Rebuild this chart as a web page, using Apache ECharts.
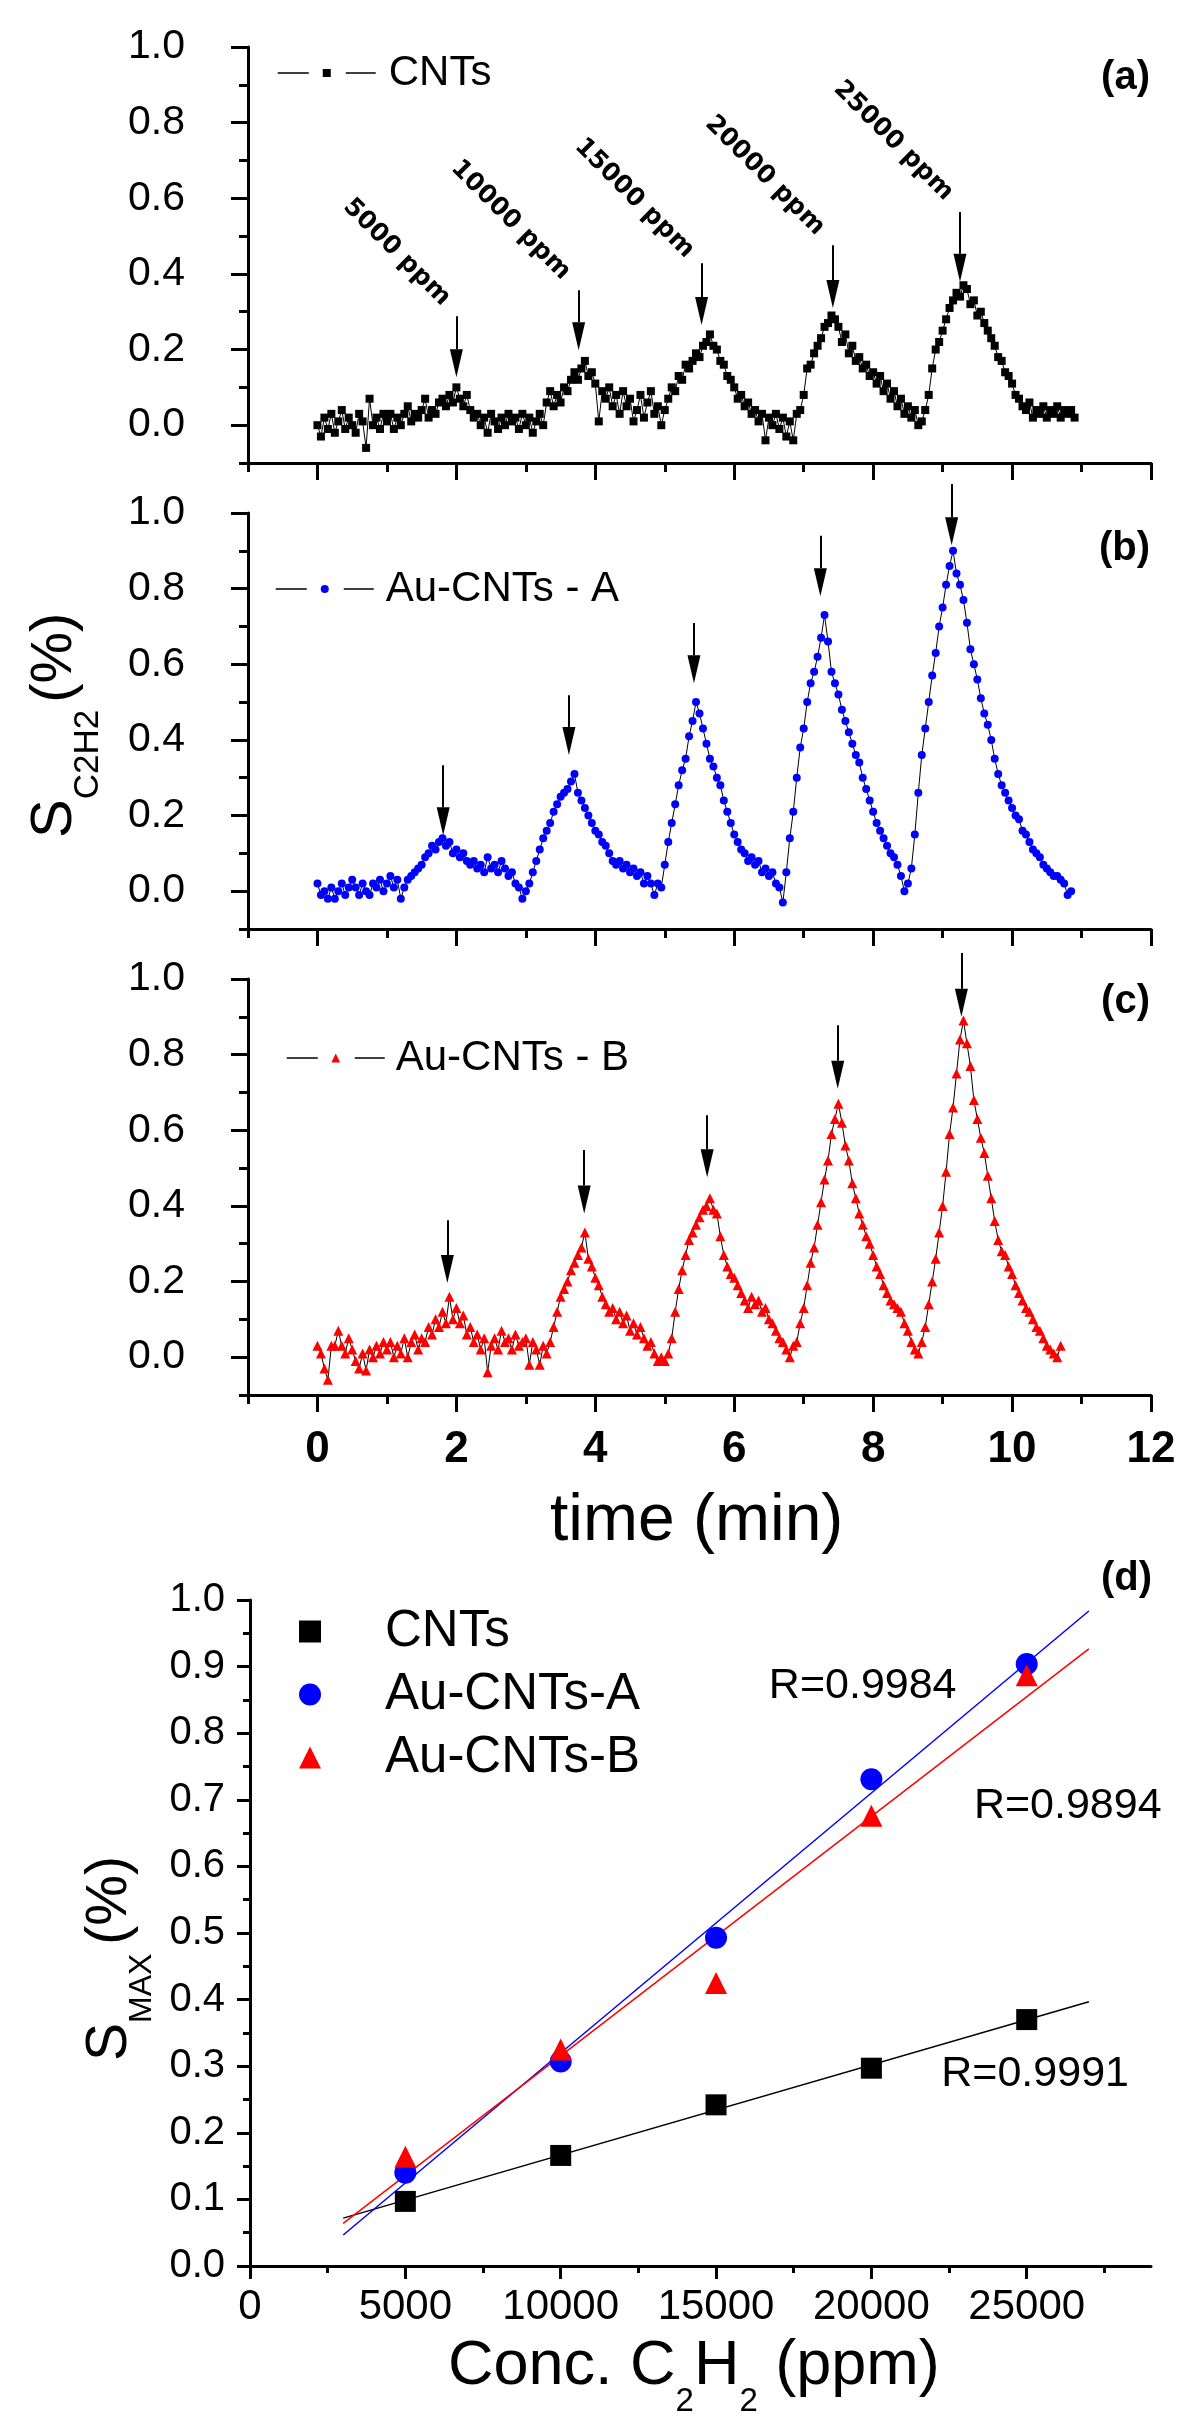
<!DOCTYPE html>
<html><head><meta charset="utf-8">
<script src="https://cdn.jsdelivr.net/npm/echarts@6/dist/echarts.min.js"></script>
<style>html,body{margin:0;padding:0;background:#fff}#c{width:1200px;height:2427px}</style>
</head><body><div id="c"></div>
<script>
// ---------- DATA ----------
const timeStep = 0.05; // min, sampling interval of the recordings
const cntsResp = [
 0.00,-0.03,0.02,-0.01,0.03,-0.02,0.01,0.04,-0.01,0.02,0.00,-0.02,0.03,0.01,-0.06,0.07,0.00,0.02,-0.01,0.03,
 0.01,0.03,-0.01,0.02,0.00,0.03,0.05,0.01,0.03,0.02,0.04,0.07,0.02,0.04,0.03,0.06,0.07,0.05,0.08,0.06,
 0.10,0.07,0.05,0.08,0.04,0.02,0.03,0.00,0.02,-0.02,0.03,0.01,-0.01,0.02,0.00,0.03,0.01,0.02,-0.01,0.03,
 0.00,0.02,-0.02,0.01,0.03,0.00,0.06,0.09,0.05,0.08,0.06,0.10,0.09,0.12,0.14,0.12,0.15,0.17,0.13,0.14,
 0.11,0.01,0.09,0.07,0.10,0.05,0.08,0.03,0.09,0.05,0.07,0.01,0.04,0.08,0.02,0.06,0.09,0.03,0.05,0.00,
 0.04,0.07,0.10,0.09,0.13,0.12,0.16,0.15,0.17,0.19,0.18,0.21,0.22,0.24,0.21,0.20,0.17,0.16,0.13,0.12,
 0.10,0.07,0.08,0.05,0.06,0.03,0.04,0.01,0.03,-0.04,0.02,0.00,0.03,-0.01,0.02,-0.03,0.01,-0.04,0.03,0.04,
 0.08,0.15,0.16,0.19,0.21,0.23,0.26,0.27,0.29,0.28,0.26,0.22,0.24,0.19,0.21,0.17,0.18,0.15,0.16,0.13,
 0.14,0.11,0.13,0.09,0.11,0.07,0.09,0.05,0.07,0.03,0.05,0.02,0.04,0.00,0.01,0.04,0.08,0.15,0.20,0.22,
 0.25,0.28,0.31,0.33,0.35,0.34,0.37,0.36,0.32,0.33,0.29,0.30,0.27,0.25,0.23,0.21,0.18,0.17,0.14,0.13,
 0.11,0.08,0.07,0.05,0.04,0.06,0.02,0.04,0.03,0.05,0.02,0.04,0.03,0.05,0.02,0.04,0.03,0.04,0.02
];
const auAResp = [
 0.02,-0.01,0.00,-0.02,0.01,-0.02,0.00,0.02,-0.01,0.01,0.03,0.01,-0.01,0.02,0.00,-0.01,0.02,0.01,0.03,0.00,
 0.02,0.04,0.01,0.03,-0.02,0.01,0.03,0.04,0.05,0.06,0.07,0.09,0.10,0.12,0.11,0.13,0.14,0.12,0.13,0.10,
 0.11,0.09,0.10,0.08,0.07,0.08,0.06,0.07,0.05,0.09,0.06,0.07,0.05,0.08,0.06,0.04,0.05,0.02,0.01,-0.02,
 0.00,0.02,0.05,0.08,0.11,0.14,0.16,0.18,0.21,0.23,0.25,0.26,0.27,0.29,0.31,0.26,0.24,0.22,0.20,0.18,
 0.16,0.15,0.13,0.12,0.10,0.08,0.07,0.08,0.06,0.07,0.05,0.06,0.04,0.05,0.02,0.04,0.02,-0.01,0.02,0.01,
 0.07,0.13,0.18,0.23,0.28,0.32,0.35,0.41,0.45,0.50,0.47,0.43,0.39,0.35,0.33,0.30,0.28,0.24,0.21,0.18,
 0.15,0.13,0.11,0.10,0.08,0.09,0.07,0.08,0.05,0.06,0.04,0.05,0.02,0.01,-0.03,0.05,0.14,0.21,0.30,0.38,
 0.43,0.50,0.55,0.58,0.62,0.67,0.73,0.66,0.58,0.55,0.52,0.48,0.45,0.42,0.39,0.36,0.34,0.30,0.27,0.24,
 0.21,0.18,0.16,0.14,0.12,0.10,0.09,0.07,0.04,0.00,0.02,0.06,0.15,0.26,0.36,0.43,0.50,0.57,0.63,0.70,
 0.75,0.81,0.86,0.90,0.84,0.81,0.77,0.71,0.64,0.60,0.56,0.51,0.47,0.44,0.40,0.35,0.31,0.28,0.26,0.24,
 0.22,0.20,0.19,0.16,0.15,0.13,0.11,0.10,0.09,0.07,0.06,0.05,0.04,0.04,0.03,0.02,-0.01,0.00
];
const auBResp = [
 0.03,0.01,-0.03,-0.06,0.03,0.03,0.07,0.03,0.01,0.05,0.02,-0.01,-0.03,0.01,-0.035,0.02,0.00,0.03,0.01,0.04,
 0.02,0.04,0.00,0.03,0.01,0.05,0.00,0.04,0.06,0.02,0.05,0.04,0.08,0.06,0.10,0.08,0.12,0.09,0.16,0.10,
 0.13,0.09,0.11,0.06,0.08,0.04,0.06,0.02,0.05,-0.04,0.03,0.05,0.02,0.07,0.04,0.05,0.02,0.06,0.03,0.04,
 0.05,-0.02,0.04,0.02,-0.02,0.03,0.01,0.04,0.08,0.12,0.16,0.18,0.20,0.23,0.25,0.27,0.29,0.33,0.26,0.24,
 0.21,0.19,0.16,0.14,0.12,0.13,0.10,0.12,0.09,0.11,0.07,0.09,0.06,0.08,0.05,0.03,0.04,0.01,-0.01,0.00,
 -0.01,0.01,0.05,0.12,0.18,0.23,0.27,0.31,0.33,0.35,0.37,0.39,0.40,0.42,0.39,0.38,0.32,0.27,0.24,0.22,
 0.21,0.19,0.17,0.15,0.13,0.16,0.14,0.15,0.12,0.13,0.10,0.09,0.07,0.05,0.04,0.02,0.00,0.03,0.04,0.09,
 0.13,0.19,0.25,0.29,0.35,0.41,0.47,0.52,0.59,0.63,0.67,0.62,0.56,0.52,0.46,0.42,0.38,0.35,0.32,0.30,
 0.27,0.24,0.22,0.19,0.17,0.15,0.14,0.13,0.12,0.09,0.07,0.04,0.02,0.01,0.04,0.08,0.14,0.20,0.26,0.33,
 0.40,0.49,0.59,0.66,0.75,0.84,0.89,0.83,0.77,0.68,0.63,0.58,0.54,0.48,0.42,0.36,0.31,0.28,0.27,0.24,
 0.22,0.19,0.17,0.15,0.13,0.12,0.10,0.08,0.07,0.05,0.03,0.02,0.01,0.00,0.03
];
// arrows (time, start value, tip value)
const arrowTimeA = [2.0, 3.76, 5.53, 7.42, 9.25];
const arrowTopA  = [0.288, 0.357, 0.428, 0.476, 0.564];
const arrowTipA  = [0.127, 0.198, 0.265, 0.31, 0.379];
const arrowTimeB = [1.81, 3.62, 5.42, 7.24, 9.13];
const arrowTopB  = [0.333, 0.518, 0.709, 0.94, 1.077];
const arrowTipB  = [0.148, 0.36, 0.55, 0.78, 0.915];
const arrowTimeC = [1.87, 3.84, 5.61, 7.49, 9.27];
const arrowTopC  = [0.362, 0.548, 0.64, 0.878, 1.069];
const arrowTipC  = [0.196, 0.38, 0.476, 0.71, 0.90];
// concentration annotations of panel (a)
const concText  = ['5000 ppm','10000 ppm','15000 ppm','20000 ppm','25000 ppm'];
const concTextT = [1.14, 2.78, 4.56, 6.44, 8.29];
const concTextV = [0.457, 0.542, 0.60, 0.66, 0.752];
// panel (d)
const concPpm  = [5000, 10000, 15000, 20000, 25000];
const smaxCNTs = [0.097, 0.166, 0.242, 0.297, 0.370];
const smaxA    = [0.140, 0.307, 0.493, 0.731, 0.904];
const smaxB    = [0.164, 0.325, 0.425, 0.676, 0.887];
const fitRange = [3000, 27000];
const rText = ['R=0.9984', 'R=0.9894', 'R=0.9991'];
const rX    = [16700, 23300, 22250];
const rY    = [0.871, 0.691, 0.288];
// tick values
const timeMajor = [0, 2, 4, 6, 8, 10, 12];
const timeMinor = [-1, 1, 3, 5, 7, 9, 11];
const sMajor = [0, 0.2, 0.4, 0.6, 0.8, 1.0];
const sMinor = [-0.1, 0.1, 0.3, 0.5, 0.7, 0.9];
const concMajor = [0, 5000, 10000, 15000, 20000, 25000];
const concMinor = [2500, 7500, 12500, 17500, 22500, 27500];
const smaxMajor = [0, 0.1, 0.2, 0.3, 0.4, 0.5, 0.6, 0.7, 0.8, 0.9, 1.0];
const smaxMinor = [0.05, 0.15, 0.25, 0.35, 0.45, 0.55, 0.65, 0.75, 0.85, 0.95];

// ---------- BUILD ----------
const FF = '"Liberation Sans", Arial, sans-serif';
const mctx = document.createElement('canvas').getContext('2d');
function tw(t, size, weight) { mctx.font = (weight || 'normal') + ' ' + size + 'px ' + FF; return mctx.measureText(t).width; }
const MID = 0.3465;
const toXY = vals => vals.map((v, i) => [+(i * timeStep).toFixed(2), v]);
const HEAD = 14 / 378.2;   // half arrow-head length in value units
const blk = '#000';

function arrowShafts(ai, ts, tops, tips) {
  return {
    type: 'lines', coordinateSystem: 'cartesian2d', xAxisIndex: ai, yAxisIndex: ai, clip: false,
    silent: true, animation: false, z: 5, symbol: ['none', 'none'],
    lineStyle: { color: blk, width: 2, type: 'solid', opacity: 1 },
    data: ts.map((t, i) => ({ coords: [[t, tops[i]], [t, tips[i] + 2 * HEAD]] }))
  };
}
function arrowHeads(ai, ts, tips) {
  return {
    type: 'scatter', xAxisIndex: ai, yAxisIndex: ai, silent: true, animation: false, clip: false, z: 5,
    symbol: 'triangle', symbolRotate: 180, symbolSize: [13, 28],
    itemStyle: { color: blk, opacity: 1 },
    data: ts.map((t, i) => [t, tips[i] + HEAD])
  };
}
function fitLine(xs, ys) {
  const n = xs.length, mx = xs.reduce((a, b) => a + b) / n, my = ys.reduce((a, b) => a + b) / n;
  let sxy = 0, sxx = 0;
  for (let i = 0; i < n; i++) { sxy += (xs[i] - mx) * (ys[i] - my); sxx += (xs[i] - mx) ** 2; }
  const k = sxy / sxx, b = my - k * mx;
  return fitRange.map(x => [x, k * x + b]);
}
const grids = [
  { left: 248, top: 47, width: 903, height: 416 },
  { left: 248, top: 513, width: 903, height: 416 },
  { left: 248, top: 979, width: 903, height: 416 },
  { left: 250, top: 1600, width: 901, height: 666 }
].map(g => Object.assign({ containLabel: false, outerBoundsMode: 'none', show: false }, g));

function mainAxis(dim, gi, min, max, ticks, tlen, lw, label) {
  return {
    type: 'value', gridIndex: gi, min: min, max: max, position: dim === 'x' ? 'bottom' : 'left',
    axisLine: { show: true, onZero: false, lineStyle: { color: blk, width: lw } },
    axisTick: { show: true, customValues: ticks, length: tlen, lineStyle: { color: blk, width: lw } },
    axisLabel: label || { show: false },
    splitLine: { show: false }
  };
}
function minorAxis(dim, gi, min, max, ticks, tlen, lw) {
  return {
    type: 'value', gridIndex: gi, min: min, max: max, position: dim === 'x' ? 'bottom' : 'left',
    axisLine: { show: false, onZero: false },
    axisTick: { show: true, customValues: ticks, length: tlen, lineStyle: { color: blk, width: lw } },
    axisLabel: { show: false }, splitLine: { show: false }
  };
}
const sLabel = { show: true, customValues: sMajor, formatter: v => v.toFixed(1), fontSize: 41, fontFamily: FF, color: blk, margin: 63, padding: [0, 0, 18, 0] };
const xAxis = [
  mainAxis('x', 0, -1, 12, timeMajor, 17, 3), minorAxis('x', 0, -1, 12, timeMinor, 9, 3),
  mainAxis('x', 1, -1, 12, timeMajor, 17, 3), minorAxis('x', 1, -1, 12, timeMinor, 9, 3),
  mainAxis('x', 2, -1, 12, timeMajor, 17, 3, { show: true, customValues: timeMajor, formatter: v => String(v), fontSize: 44, fontWeight: 'bold', fontFamily: FF, color: blk, margin: 33 }),
  minorAxis('x', 2, -1, 12, timeMinor, 9, 3),
  mainAxis('x', 3, 0, 29000, concMajor, 13, 3, { show: true, customValues: concMajor, formatter: v => String(v), fontSize: 42, fontFamily: FF, color: blk, margin: 20 }),
  minorAxis('x', 3, 0, 29000, concMinor, 7, 3)
];
const yAxis = [
  mainAxis('y', 0, -0.1, 1.0, sMajor, 17, 3, sLabel), minorAxis('y', 0, -0.1, 1.0, sMinor, 9, 3),
  mainAxis('y', 1, -0.1, 1.0, sMajor, 17, 3, sLabel), minorAxis('y', 1, -0.1, 1.0, sMinor, 9, 3),
  mainAxis('y', 2, -0.1, 1.0, sMajor, 17, 3, sLabel), minorAxis('y', 2, -0.1, 1.0, sMinor, 9, 3),
  mainAxis('y', 3, 0, 1.0, smaxMajor, 13, 3, { show: true, customValues: smaxMajor, formatter: v => v.toFixed(1), fontSize: 40, fontFamily: FF, color: blk, margin: 25 }),
  minorAxis('y', 3, 0, 1.0, smaxMinor, 7, 3)
];

function trace(name, ai, vals, symbol, size, color) {
  return {
    type: 'line', name: name, xAxisIndex: ai, yAxisIndex: ai, data: toXY(vals),
    symbol: symbol, symbolSize: size, showSymbol: true, showAllSymbol: true, clip: false,
    itemStyle: { color: color, opacity: 1 }, lineStyle: { color: blk, width: 1, opacity: 1 },
    silent: true, animation: false, z: 2
  };
}
const labelStyleBase = { show: true, position: 'inside', align: 'center', verticalAlign: 'middle', color: blk, opacity: 1 };
const series = [
  trace('CNTs', 0, cntsResp, 'rect', 8, blk),
  arrowShafts(0, arrowTimeA, arrowTopA, arrowTipA),
  arrowHeads(0, arrowTimeA, arrowTipA),
  {
    type: 'scatter', xAxisIndex: 0, yAxisIndex: 0, symbolSize: 1, silent: true, animation: false,
    itemStyle: { color: 'rgba(0,0,0,0)', opacity: 1 },
    data: concText.map((t, i) => [concTextT[i], concTextV[i], t]),
    label: Object.assign({}, labelStyleBase, { formatter: p => p.data[2], rotate: -45,
      fontSize: 25, fontWeight: 'bold', fontFamily: '"DejaVu Sans", sans-serif' })
  },
  trace('Au-CNTs - A', 2, auAResp, 'circle', 8, '#0000ff'),
  arrowShafts(2, arrowTimeB, arrowTopB, arrowTipB),
  arrowHeads(2, arrowTimeB, arrowTipB),
  trace('Au-CNTs - B', 4, auBResp, 'triangle', 10, '#ff0000'),
  arrowShafts(4, arrowTimeC, arrowTopC, arrowTipC),
  arrowHeads(4, arrowTimeC, arrowTipC),
  { type: 'line', name: 'fitCNTs', xAxisIndex: 6, yAxisIndex: 6, data: fitLine(concPpm, smaxCNTs), showSymbol: false, lineStyle: { color: blk, width: 1.5, opacity: 1 }, silent: true, animation: false },
  { type: 'line', name: 'fitA', xAxisIndex: 6, yAxisIndex: 6, data: fitLine(concPpm, smaxA), showSymbol: false, lineStyle: { color: '#0000ff', width: 1.5, opacity: 1 }, silent: true, animation: false },
  { type: 'line', name: 'fitB', xAxisIndex: 6, yAxisIndex: 6, data: fitLine(concPpm, smaxB), showSymbol: false, lineStyle: { color: '#ff0000', width: 1.5, opacity: 1 }, silent: true, animation: false },
  { type: 'scatter', name: 'CNTs ', xAxisIndex: 6, yAxisIndex: 6, data: concPpm.map((c, i) => [c, smaxCNTs[i]]), symbol: 'rect', symbolSize: 21, itemStyle: { color: blk, opacity: 1 }, silent: true, animation: false, z: 3 },
  { type: 'scatter', name: 'Au-CNTs-A', xAxisIndex: 6, yAxisIndex: 6, data: concPpm.map((c, i) => [c, smaxA[i]]), symbol: 'circle', symbolSize: 22, itemStyle: { color: '#0000ff', opacity: 1 }, silent: true, animation: false, z: 3 },
  { type: 'scatter', name: 'Au-CNTs-B', xAxisIndex: 6, yAxisIndex: 6, data: concPpm.map((c, i) => [c, smaxB[i]]), symbol: 'triangle', symbolSize: 22, itemStyle: { color: '#ff0000', opacity: 1 }, silent: true, animation: false, z: 4 },
  {
    type: 'scatter', xAxisIndex: 6, yAxisIndex: 6, symbolSize: 1, silent: true, animation: false,
    itemStyle: { color: 'rgba(0,0,0,0)', opacity: 1 }, data: rText.map((t, i) => [rX[i], rY[i], t]),
    label: Object.assign({}, labelStyleBase, { formatter: p => p.data[2], align: 'left', fontSize: 43, fontFamily: FF })
  }
];

function lineLegend(name, left, cy, ih, pad) {
  return {
    data: [name], left: left, top: cy - 21, padding: 0, selectedMode: false,
    itemWidth: 98, itemHeight: ih, textStyle: { fontSize: 42, fontFamily: FF, color: blk, padding: [0, 0, 0, pad] },
    lineStyle: { type: [31, 37], width: 1.5, color: blk }, itemStyle: { opacity: 1 }
  };
}
const legend = [
  lineLegend('CNTs', 277, 73, 10, 8),
  lineLegend('Au-CNTs - A', 275, 589, 10, 7),
  lineLegend('Au-CNTs - B', 286, 1058, 11, 6),
  {
    data: ['CNTs ', 'Au-CNTs-A', 'Au-CNTs-B'], orient: 'vertical', left: 299, top: 1606, padding: 0, selectedMode: false,
    itemWidth: 22, itemHeight: 22, itemGap: 12, formatter: n => n.trim(), itemStyle: { opacity: 1 },
    textStyle: { fontSize: 51, fontFamily: FF, color: blk, padding: [0, 0, 0, 59] }
  }
];

function txt(text, x, y, size, opts) {
  opts = opts || {};
  return { type: 'text', x: x, y: y, silent: true, style: { text: text, font: (opts.weight || 'normal') + ' ' + size + 'px ' + FF, fill: blk, align: opts.align || 'left', verticalAlign: 'middle' } };
}
function yTitle(baseX, startY, main, sub, mainSize, subSize, subDrop, gap) {
  const wS = tw(main, mainSize), wSub = tw(sub, subSize);
  return {
    type: 'group', x: baseX, y: startY, rotation: Math.PI / 2, silent: true,
    children: [
      txt(main, 0, -MID * mainSize, mainSize),
      txt(sub, wS, subDrop - MID * subSize, subSize),
      txt('(%)', wS + wSub + gap, -MID * mainSize, mainSize)
    ]
  };
}
function xTitle(startX, baseY, parts) {
  let x = startX; const out = [];
  parts.forEach(p => { out.push(txt(p[0], x, baseY + p[2] - MID * p[1], p[1])); x += tw(p[0], p[1]); });
  return out;
}
const graphic = [
  yTitle(75, 838, 'S', 'C2H2', 58, 35, 25, 7),
  yTitle(130, 2061, 'S', 'MAX', 57, 32, 23, 9),
  txt('time (min)', 550, 1545 - MID * 66, 66),
  ...xTitle(448, 2388, [['Conc. C', 63, 0], ['2', 33, 25], ['H', 63, 0], ['2', 33, 25], [' (ppm)', 63, 0]]),
  txt('(a)', 1150, 78, 40, { weight: 'bold', align: 'right' }),
  txt('(b)', 1150, 548.5, 40, { weight: 'bold', align: 'right' }),
  txt('(c)', 1150, 1001.5, 40, { weight: 'bold', align: 'right' }),
  txt('(d)', 1152, 1578.5, 40, { weight: 'bold', align: 'right' })
];

const chart = echarts.init(document.getElementById('c'), null, { renderer: 'canvas', width: 1200, height: 2427 });
chart.setOption({
  animation: false, backgroundColor: '#fff',
  grid: grids, xAxis: xAxis, yAxis: yAxis, series: series, legend: legend, graphic: graphic
});
</script></body></html>
